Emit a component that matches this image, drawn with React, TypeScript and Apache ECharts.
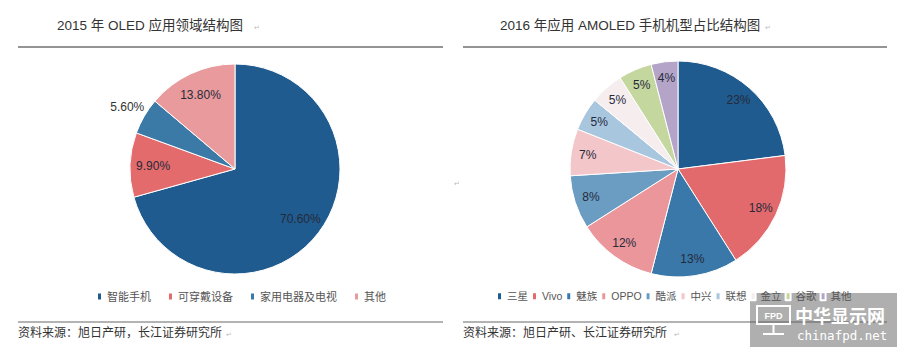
import React, { useEffect, useRef } from 'react';
import * as echarts from 'echarts';

const leftTitle = '2015 年 OLED 应用领域结构图';
const rightTitle = '2016 年应用 AMOLED 手机机型占比结构图';

const leftCategories = ['智能手机', '可穿戴设备', '家用电器及电视', '其他'];
const leftValues = [70.6, 9.9, 5.6, 13.8];
const leftLabels = ['70.60%', '9.90%', '5.60%', '13.80%'];
const leftColors = ['#1f5b8e', '#e36b6c', '#3b79a7', '#e99a9c'];

const rightCategories = ['三星', 'Vivo', '魅族', 'OPPO', '酷派', '中兴', '联想', '金立', '谷歌', '其他'];
const rightValues = [23, 18, 13, 12, 8, 7, 5, 5, 5, 4];
const rightColors = ['#1f5b8e', '#e36a6c', '#3978a8', '#ea969a', '#6b9dc3', '#f3c6ca', '#a9c6df', '#f6edef', '#c4d79f', '#b3a4c8'];

const leftSource = '资料来源：旭日产研，长江证券研究所';
const rightSource = '资料来源：旭日产研、长江证券研究所';

const FONT = '"Liberation Sans", "Noto Sans CJK SC", sans-serif';
const LABEL_COLOR = '#262a3a';

export default function App() {
  const ref = useRef<HTMLDivElement>(null);

  useEffect(() => {
    if (!ref.current) return;
    const chart = echarts.init(ref.current, undefined, { renderer: 'svg' });

    const mainData = (cats: string[], vals: number[], cols: string[]) =>
      cats.map((n, i) => ({ name: n, value: vals[i], itemStyle: { color: cols[i] } }));

    const legendData = (cats: string[], cols: string[]) =>
      cats.map((n, i) => ({ name: n, icon: 'rect', itemStyle: { color: cols[i] } }));

    const option: any = {
      animation: false,
      backgroundColor: '#ffffff',
      textStyle: { fontFamily: FONT },
      legend: [
        {
          data: legendData(leftCategories, leftColors),
          left: 91,
          top: 286,
          icon: 'rect',
          itemWidth: 5,
          itemHeight: 8,
          itemGap: 16,
          selectedMode: false,
          textStyle: { fontSize: 11, color: '#555', fontFamily: FONT },
        },
        {
          data: legendData(rightCategories, rightColors),
          left: 491,
          top: 286,
          icon: 'rect',
          itemWidth: 5,
          itemHeight: 8,
          itemGap: 3,
          selectedMode: false,
          textStyle: { fontSize: 10.5, color: '#555', fontFamily: FONT },
        },
      ],
      series: [
        {
          type: 'pie',
          center: [235, 169],
          radius: [0, 105],
          startAngle: 90,
          clockwise: true,
          silent: true,
          label: { show: false },
          labelLine: { show: false },
          itemStyle: { borderColor: '#ffffff', borderWidth: 1 },
          data: mainData(leftCategories, leftValues, leftColors),
        },
        {
          type: 'pie',
          center: [235, 169],
          radius: [53, 105],
          startAngle: 90,
          clockwise: true,
          silent: true,
          z: 3,
          avoidLabelOverlap: false,
          itemStyle: { color: 'transparent', borderWidth: 0 },
          labelLine: { show: false, length: 0, length2: 0 },
          label: {
            show: true,
            position: 'inside',
            fontSize: 12,
            color: LABEL_COLOR,
            fontFamily: FONT,
            formatter: (p: any) => leftLabels[p.dataIndex],
          },
          data: leftCategories.map((n, i) => ({
            name: n,
            value: leftValues[i],
            itemStyle: { color: 'transparent' },
            label:
              i === 2
                ? {
                    position: 'outside',
                    distanceToLabelLine: 0,
                    lineHeight: 18,
                    color: '#333',
                    formatter: (p: any) => `${leftLabels[p.dataIndex]}\n `,
                  }
                : undefined,
          })),
        },
        {
          type: 'pie',
          center: [678, 169],
          radius: [0, 108],
          startAngle: 90,
          clockwise: true,
          silent: true,
          label: { show: false },
          labelLine: { show: false },
          itemStyle: { borderColor: '#ffffff', borderWidth: 1 },
          data: mainData(rightCategories, rightValues, rightColors),
        },
        {
          type: 'pie',
          center: [678, 169],
          radius: [69, 108],
          startAngle: 90,
          clockwise: true,
          silent: true,
          z: 3,
          avoidLabelOverlap: false,
          itemStyle: { color: 'transparent', borderWidth: 0 },
          labelLine: { show: false },
          label: {
            show: true,
            position: 'inside',
            fontSize: 12,
            color: LABEL_COLOR,
            fontFamily: FONT,
            formatter: (p: any) => `${rightValues[p.dataIndex]}%`,
          },
          data: rightCategories.map((n, i) => ({
            name: n,
            value: rightValues[i],
            itemStyle: { color: 'transparent' },
          })),
        },
      ],
      graphic: [
        // titles
        { type: 'text', x: 57, y: 25, style: { text: leftTitle, fontSize: 13.5, fill: '#333', fontFamily: FONT, verticalAlign: 'middle' } },
        { type: 'text', x: 500, y: 25, style: { text: rightTitle, fontSize: 13.5, fill: '#333', fontFamily: FONT, verticalAlign: 'middle' } },
        { type: 'text', x: 254, y: 27, style: { text: '↵', fontSize: 7, fill: '#bbb', verticalAlign: 'middle' } },
        { type: 'text', x: 765, y: 27, style: { text: '↵', fontSize: 7, fill: '#bbb', verticalAlign: 'middle' } },
        // top rules
        { type: 'line', shape: { x1: 18, y1: 47, x2: 443, y2: 47 }, style: { stroke: '#707070', lineWidth: 1.5 } },
        { type: 'line', shape: { x1: 463, y1: 47, x2: 887, y2: 47 }, style: { stroke: '#707070', lineWidth: 1.5 } },
        // bottom rules
        { type: 'line', shape: { x1: 18, y1: 322, x2: 443, y2: 322 }, style: { stroke: '#9a9a9a', lineWidth: 1.5 } },
        { type: 'line', shape: { x1: 463, y1: 322, x2: 887, y2: 322 }, style: { stroke: '#9a9a9a', lineWidth: 1.5 } },
        // sources
        { type: 'text', x: 18, y: 333, style: { text: leftSource, fontSize: 12, fill: '#333', fontFamily: FONT, verticalAlign: 'middle' } },
        { type: 'text', x: 463, y: 333, style: { text: rightSource, fontSize: 12, fill: '#333', fontFamily: FONT, verticalAlign: 'middle' } },
        { type: 'text', x: 226, y: 334, style: { text: '↵', fontSize: 7, fill: '#bbb', verticalAlign: 'middle' } },
        { type: 'text', x: 674, y: 334, style: { text: '↵', fontSize: 7, fill: '#bbb', verticalAlign: 'middle' } },
        { type: 'text', x: 454, y: 183, style: { text: '↵', fontSize: 7, fill: '#bbb', verticalAlign: 'middle' } },
        // watermark
        {
          type: 'group',
          z: 100,
          children: [
            { type: 'rect', shape: { x: 750, y: 293, width: 147, height: 54 }, style: { fill: 'rgba(95,95,95,0.5)' } },
            { type: 'rect', shape: { x: 757, y: 306, width: 33, height: 18 }, style: { fill: 'none', stroke: '#ffffff', lineWidth: 2 } },
            { type: 'text', x: 773.5, y: 315.5, style: { text: 'FPD', fontSize: 9, fontWeight: 'bold', fill: '#ffffff', align: 'center', verticalAlign: 'middle', fontFamily: FONT } },
            { type: 'line', shape: { x1: 773.5, y1: 325, x2: 773.5, y2: 333 }, style: { stroke: '#ffffff', lineWidth: 2 } },
            { type: 'line', shape: { x1: 763, y1: 334, x2: 784, y2: 334 }, style: { stroke: '#ffffff', lineWidth: 2 } },
            { type: 'text', x: 795, y: 315, style: { text: '中华显示网', fontSize: 18, fontWeight: 'bold', fill: '#ffffff', verticalAlign: 'middle', fontFamily: '"Noto Sans CJK SC", sans-serif' } },
            { type: 'text', x: 797, y: 335.5, style: { text: 'chinafpd.net', fontSize: 12.5, fill: '#ffffff', verticalAlign: 'middle', fontFamily: '"DejaVu Sans Mono", monospace' } },
          ],
        },
      ],
    };

    chart.setOption(option);
    return () => {
      chart.dispose();
    };
  }, []);

  return (
    <div
      ref={ref}
      style={{ position: 'absolute', left: 0, top: 0, width: 901, height: 352, background: '#fff' }}
    />
  );
}
